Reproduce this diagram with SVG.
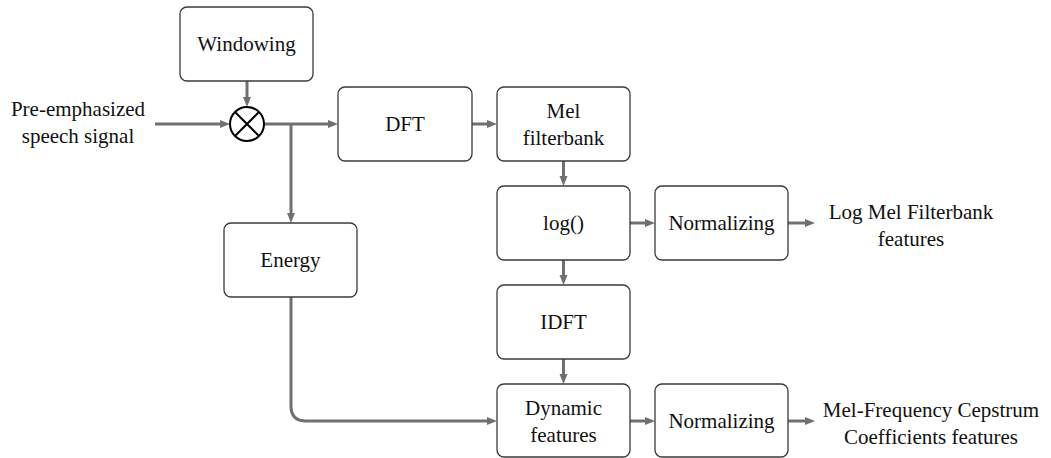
<svg xmlns="http://www.w3.org/2000/svg" width="1051" height="458" viewBox="0 0 1051 458">
<style>
.box{fill:#fff;stroke:#3a3a3a;stroke-width:1.3}
.t{font-size:21px;fill:#111;text-anchor:middle}
.c{fill:none;stroke:#707070;stroke-width:3}
</style>
<defs>
<marker id="ah" markerUnits="userSpaceOnUse" markerWidth="12" markerHeight="10" refX="2" refY="4" orient="auto">
<path d="M0,0 L10,4 L0,8 z" fill="#707070"/>
</marker>
</defs>
<g id="connectors">
<path class="c" d="M247,81 V99" marker-end="url(#ah)"/>
<path class="c" d="M155,124 H222" marker-end="url(#ah)"/>
<path class="c" d="M264,124 H330" marker-end="url(#ah)"/>
<path class="c" d="M291,124 V215" marker-end="url(#ah)"/>
<path class="c" d="M472,124 H489" marker-end="url(#ah)"/>
<path class="c" d="M563.5,161 V178" marker-end="url(#ah)"/>
<path class="c" d="M630,223 H647" marker-end="url(#ah)"/>
<path class="c" d="M788,223 H807" marker-end="url(#ah)"/>
<path class="c" d="M563.5,260 V277" marker-end="url(#ah)"/>
<path class="c" d="M563.5,359 V376" marker-end="url(#ah)"/>
<path class="c" d="M291,297 V406 Q291,421 306,421 H489" marker-end="url(#ah)"/>
<path class="c" d="M630,421 H647" marker-end="url(#ah)"/>
<path class="c" d="M788,421 H807" marker-end="url(#ah)"/>
</g>
<g font-family="Liberation Serif, DejaVu Serif, serif">
<g id="input">
<text class="t" x="78" y="116">Pre-emphasized</text>
<text class="t" x="78" y="143">speech signal</text>
</g>
<g id="windowing">
<rect class="box" x="180" y="7" width="133" height="74" rx="7"/>
<text class="t" x="246.5" y="51">Windowing</text>
</g>
<g id="multiplier">
<circle cx="247" cy="124" r="17" fill="#fff" stroke="#000" stroke-width="2"/>
<path d="M235,112 L259,136 M259,112 L235,136" stroke="#000" stroke-width="2"/>
</g>
<g id="dft">
<rect class="box" x="338" y="87" width="134" height="74" rx="7"/>
<text class="t" x="405" y="131">DFT</text>
</g>
<g id="mel">
<rect class="box" x="497" y="87" width="133" height="74" rx="7"/>
<text class="t" x="563.5" y="118">Mel</text>
<text class="t" x="563.5" y="145">filterbank</text>
</g>
<g id="energy">
<rect class="box" x="224" y="223" width="133" height="74" rx="7"/>
<text class="t" x="290.5" y="267">Energy</text>
</g>
<g id="log">
<rect class="box" x="497" y="186" width="133" height="74" rx="7"/>
<text class="t" x="563.5" y="230">log()</text>
</g>
<g id="norm1">
<rect class="box" x="655" y="186" width="133" height="74" rx="7"/>
<text class="t" x="721.5" y="230">Normalizing</text>
</g>
<g id="out1">
<text class="t" x="911" y="219">Log Mel Filterbank</text>
<text class="t" x="911" y="246">features</text>
</g>
<g id="idft">
<rect class="box" x="497" y="285" width="133" height="74" rx="7"/>
<text class="t" x="563.5" y="329">IDFT</text>
</g>
<g id="dynamic">
<rect class="box" x="497" y="384" width="133" height="73" rx="7"/>
<text class="t" x="563.5" y="415">Dynamic</text>
<text class="t" x="563.5" y="442">features</text>
</g>
<g id="norm2">
<rect class="box" x="655" y="384" width="133" height="73" rx="7"/>
<text class="t" x="721.5" y="428">Normalizing</text>
</g>
<g id="out2">
<text class="t" x="931" y="417">Mel-Frequency Cepstrum</text>
<text class="t" x="931" y="444">Coefficients features</text>
</g>
</g>
</svg>
